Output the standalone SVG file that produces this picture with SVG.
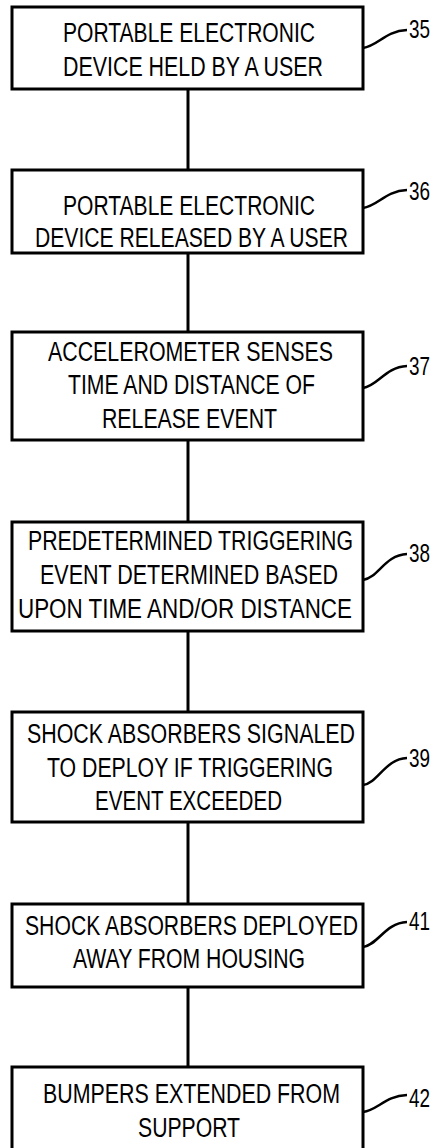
<svg xmlns="http://www.w3.org/2000/svg" width="438" height="1148" viewBox="0 0 438 1148">
<style>
.box{fill:#fff;stroke:#000;stroke-width:3}
.t{font-family:"Liberation Sans",Arial,sans-serif;font-size:27px;fill:#000}
.lbl{font-family:"Liberation Sans",Arial,sans-serif;font-size:26px;fill:#000}
.conn{stroke:#000;stroke-width:3;fill:none}
.lead{stroke:#000;stroke-width:2.5;fill:none}
</style>
<rect width="438" height="1148" fill="#fff"/>
<g id="connectors">
<line class="conn" x1="188" y1="89" x2="188" y2="170"/>
<line class="conn" x1="188" y1="253" x2="188" y2="332"/>
<line class="conn" x1="188" y1="440" x2="188" y2="522"/>
<line class="conn" x1="188" y1="631" x2="188" y2="712"/>
<line class="conn" x1="188" y1="822" x2="188" y2="904"/>
<line class="conn" x1="188" y1="987" x2="188" y2="1067"/>
</g>
<g id="n35">
<rect class="box" x="12" y="7" width="351" height="82"/>
<text class="t" x="63" y="42" textLength="252" lengthAdjust="spacingAndGlyphs">PORTABLE ELECTRONIC</text>
<text class="t" x="63" y="76" textLength="260" lengthAdjust="spacingAndGlyphs">DEVICE HELD BY A USER</text>
<path class="lead" d="M363,48 C378,46 385,31 407,30"/>
<text class="lbl" x="409" y="38" textLength="21" lengthAdjust="spacingAndGlyphs">35</text>
</g>
<g id="n36">
<rect class="box" x="12" y="170" width="351" height="83"/>
<text class="t" x="63" y="215" textLength="252" lengthAdjust="spacingAndGlyphs">PORTABLE ELECTRONIC</text>
<text class="t" x="35" y="247" textLength="313" lengthAdjust="spacingAndGlyphs">DEVICE RELEASED BY A USER</text>
<path class="lead" d="M363,208 C378,206 385,191 407,190"/>
<text class="lbl" x="409" y="200" textLength="21" lengthAdjust="spacingAndGlyphs">36</text>
</g>
<g id="n37">
<rect class="box" x="12" y="332" width="351" height="108"/>
<text class="t" x="48" y="361" textLength="285" lengthAdjust="spacingAndGlyphs">ACCELEROMETER SENSES</text>
<text class="t" x="68" y="394" textLength="247" lengthAdjust="spacingAndGlyphs">TIME AND DISTANCE OF</text>
<text class="t" x="102" y="428" textLength="175" lengthAdjust="spacingAndGlyphs">RELEASE EVENT</text>
<path class="lead" d="M363,388 C378,386 385,367 407,366"/>
<text class="lbl" x="409" y="375" textLength="21" lengthAdjust="spacingAndGlyphs">37</text>
</g>
<g id="n38">
<rect class="box" x="12" y="522" width="351" height="109"/>
<text class="t" x="28" y="550" textLength="325" lengthAdjust="spacingAndGlyphs">PREDETERMINED TRIGGERING</text>
<text class="t" x="40" y="584" textLength="298" lengthAdjust="spacingAndGlyphs">EVENT DETERMINED BASED</text>
<text class="t" x="18" y="618" textLength="334" lengthAdjust="spacingAndGlyphs">UPON TIME AND/OR DISTANCE</text>
<path class="lead" d="M363,580 C378,578 385,555 407,554"/>
<text class="lbl" x="409" y="562" textLength="21" lengthAdjust="spacingAndGlyphs">38</text>
</g>
<g id="n39">
<rect class="box" x="12" y="712" width="351" height="110"/>
<text class="t" x="27" y="743" textLength="328" lengthAdjust="spacingAndGlyphs">SHOCK ABSORBERS SIGNALED</text>
<text class="t" x="47" y="777" textLength="286" lengthAdjust="spacingAndGlyphs">TO DEPLOY IF TRIGGERING</text>
<text class="t" x="95" y="810" textLength="187" lengthAdjust="spacingAndGlyphs">EVENT EXCEEDED</text>
<path class="lead" d="M363,785 C378,783 385,759 407,758"/>
<text class="lbl" x="409" y="767" textLength="21" lengthAdjust="spacingAndGlyphs">39</text>
</g>
<g id="n41">
<rect class="box" x="12" y="904" width="351" height="83"/>
<text class="t" x="25" y="935" textLength="333" lengthAdjust="spacingAndGlyphs">SHOCK ABSORBERS DEPLOYED</text>
<text class="t" x="73" y="968" textLength="232" lengthAdjust="spacingAndGlyphs">AWAY FROM HOUSING</text>
<path class="lead" d="M363,947 C378,945 385,923 407,922"/>
<text class="lbl" x="409" y="930" textLength="21" lengthAdjust="spacingAndGlyphs">41</text>
</g>
<g id="n42">
<rect class="box" x="12" y="1067" width="351" height="90"/>
<text class="t" x="43" y="1103" textLength="297" lengthAdjust="spacingAndGlyphs">BUMPERS EXTENDED FROM</text>
<text class="t" x="138" y="1137" textLength="102" lengthAdjust="spacingAndGlyphs">SUPPORT</text>
<path class="lead" d="M363,1112 C378,1110 385,1096 407,1095"/>
<text class="lbl" x="409" y="1107" textLength="21" lengthAdjust="spacingAndGlyphs">42</text>
</g>
</svg>
